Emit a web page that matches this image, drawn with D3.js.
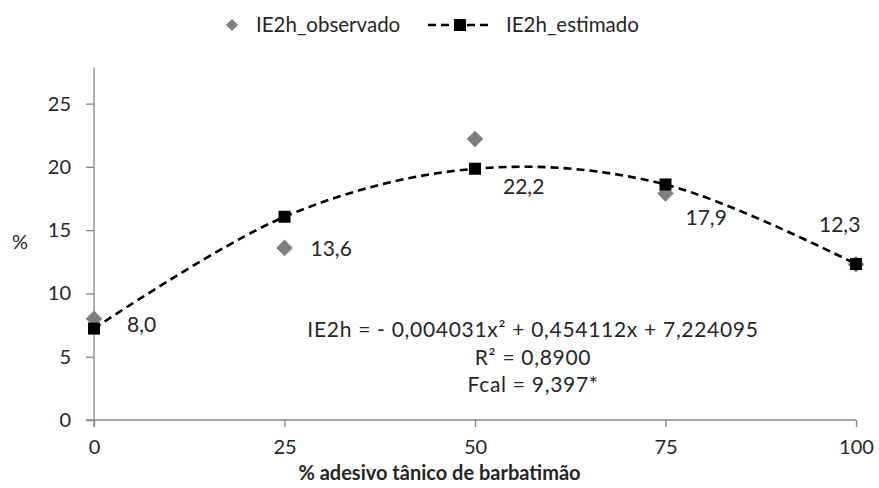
<!DOCTYPE html>
<html>
<head>
<meta charset="utf-8">
<script src="https://cdn.jsdelivr.net/npm/d3@7"></script>
<style>
  html, body { margin: 0; padding: 0; background: #fff; }
  svg { display: block; font-family: Lato, "Open Sans", sans-serif; }
</style>
</head>
<body>
<svg id="chart" width="879" height="488"></svg>
<script>
// Doses of tannic adhesive (% barbatimão)
const doses = [0, 25, 50, 75, 100];
// Observed IE2h (%)
const observed = [8.0, 13.6, 22.2, 17.9, 12.3];
// IE2h estimated by the quadratic fit
const estimated = [7.224, 16.058, 19.852, 18.608, 12.325];
// Observed value labels
const valueLabels = ["8,0", "13,6", "22,2", "17,9", "12,3"];
// Axis ticks
const xTicks = [0, 25, 50, 75, 100];
const yTicks = [0, 5, 10, 15, 20, 25];
// Regression annotation
const equationLines = [
  "IE2h = - 0,004031x\u00B2 + 0,454112x + 7,224095",
  "R\u00B2 = 0,8900",
  "Fcal = 9,397*"
];

const svg = d3.select("#chart");
const textColor = "#262626";
const axisColor = "#868686";

const x = d3.scaleLinear().domain([0, 100]).range([94, 856]);
const y = d3.scaleLinear().domain([0, 25]).range([420, 103.6]);

// Y axis (line extends above the last tick)
const yAxis = d3.axisLeft(y).tickValues(yTicks).tickSize(8).tickSizeOuter(0).tickPadding(15)
  .tickFormat(d3.format("d"));
const gy = svg.append("g").attr("transform", `translate(${x(0)},0)`).call(yAxis);
gy.select(".domain").remove();
gy.append("line")
  .attr("x1", 0).attr("x2", 0)
  .attr("y1", y(0) + 7).attr("y2", y(27.85))
  .attr("stroke", axisColor).attr("stroke-width", 1.3);
gy.selectAll(".tick line").attr("stroke", axisColor).attr("stroke-width", 1.3);
gy.selectAll(".tick text").attr("fill", textColor).style("font-size", "20px")
  .style("font-family", "Lato, sans-serif");

// X axis
const xAxis = d3.axisBottom(x).tickValues(xTicks).tickSize(7).tickSizeOuter(0).tickPadding(13);
const gx = svg.append("g").attr("transform", `translate(0,${y(0)})`).call(xAxis);
gx.select(".domain").remove();
gx.append("line")
  .attr("x1", x(0) - 8).attr("x2", x(100))
  .attr("y1", 0).attr("y2", 0)
  .attr("stroke", axisColor).attr("stroke-width", 1.3);
gx.selectAll(".tick line").attr("stroke", axisColor).attr("stroke-width", 1.3);
gx.selectAll(".tick text").attr("fill", textColor).style("font-size", "20px")
  .style("font-family", "Lato, sans-serif");

// Axis titles
svg.append("text")
  .attr("x", 439.5).attr("y", 480)
  .attr("text-anchor", "middle")
  .attr("fill", textColor)
  .style("font-size", "20px").style("font-weight", "bold")
  .text("% adesivo t\u00E2nico de barbatim\u00E3o");

svg.append("text")
  .attr("x", 20).attr("y", 249)
  .attr("text-anchor", "middle")
  .attr("fill", textColor)
  .style("font-size", "20px")
  .text("%");

// Estimated curve (smoothed through the fitted points)
const pts = doses.map((d, i) => [x(d), y(estimated[i])]);
svg.append("path")
  .attr("d", d3.line().curve(d3.curveCardinal.tension(0))(pts))
  .attr("fill", "none")
  .attr("stroke", "#000")
  .attr("stroke-width", 2.6)
  .attr("stroke-dasharray", "8,5");

// Observed markers (diamonds)
const diamond = d3.symbol().type(d3.symbolDiamond2).size(175);
svg.append("g").selectAll("path")
  .data(doses)
  .join("path")
  .attr("transform", (d, i) => `translate(${x(d)},${y(observed[i])})`)
  .attr("d", diamond)
  .attr("fill", "#808080");

// Estimated markers (squares)
svg.append("g").selectAll("rect")
  .data(doses)
  .join("rect")
  .attr("x", d => x(d) - 6)
  .attr("y", (d, i) => y(estimated[i]) - 6)
  .attr("width", 12).attr("height", 12)
  .attr("fill", "#000");

// Value labels beside the observed points
const labelShift = [[33, 13], [26, 8], [28, 55], [20, 32], [-37, -32]];
svg.append("g").selectAll("text")
  .data(doses)
  .join("text")
  .attr("x", (d, i) => x(d) + labelShift[i][0])
  .attr("y", (d, i) => y(observed[i]) + labelShift[i][1])
  .attr("fill", textColor)
  .style("font-size", "21px")
  .text((d, i) => valueLabels[i]);

// Regression equation
svg.append("g").selectAll("text")
  .data(equationLines)
  .join("text")
  .attr("x", 533)
  .attr("y", (d, i) => 337 + i * 27.5)
  .attr("text-anchor", "middle")
  .attr("fill", textColor)
  .style("font-size", "21px")
  .style("letter-spacing", "0.7px")
  .text(d => d);

// Legend
const lg = svg.append("g");
lg.append("path")
  .attr("transform", "translate(232,25)")
  .attr("d", d3.symbol().type(d3.symbolDiamond2).size(95))
  .attr("fill", "#808080");
lg.append("text").attr("x", 256).attr("y", 32)
  .attr("fill", textColor).style("font-size", "20.5px").text("IE2h_observado");
lg.append("line")
  .attr("x1", 428).attr("x2", 492).attr("y1", 25).attr("y2", 25)
  .attr("stroke", "#000").attr("stroke-width", 2.6).attr("stroke-dasharray", "8,5");
lg.append("rect").attr("x", 454).attr("y", 19).attr("width", 12).attr("height", 12).attr("fill", "#000");
lg.append("text").attr("x", 506).attr("y", 32)
  .attr("fill", textColor).style("font-size", "20.5px").text("IE2h_estimado");
</script>
</body>
</html>
